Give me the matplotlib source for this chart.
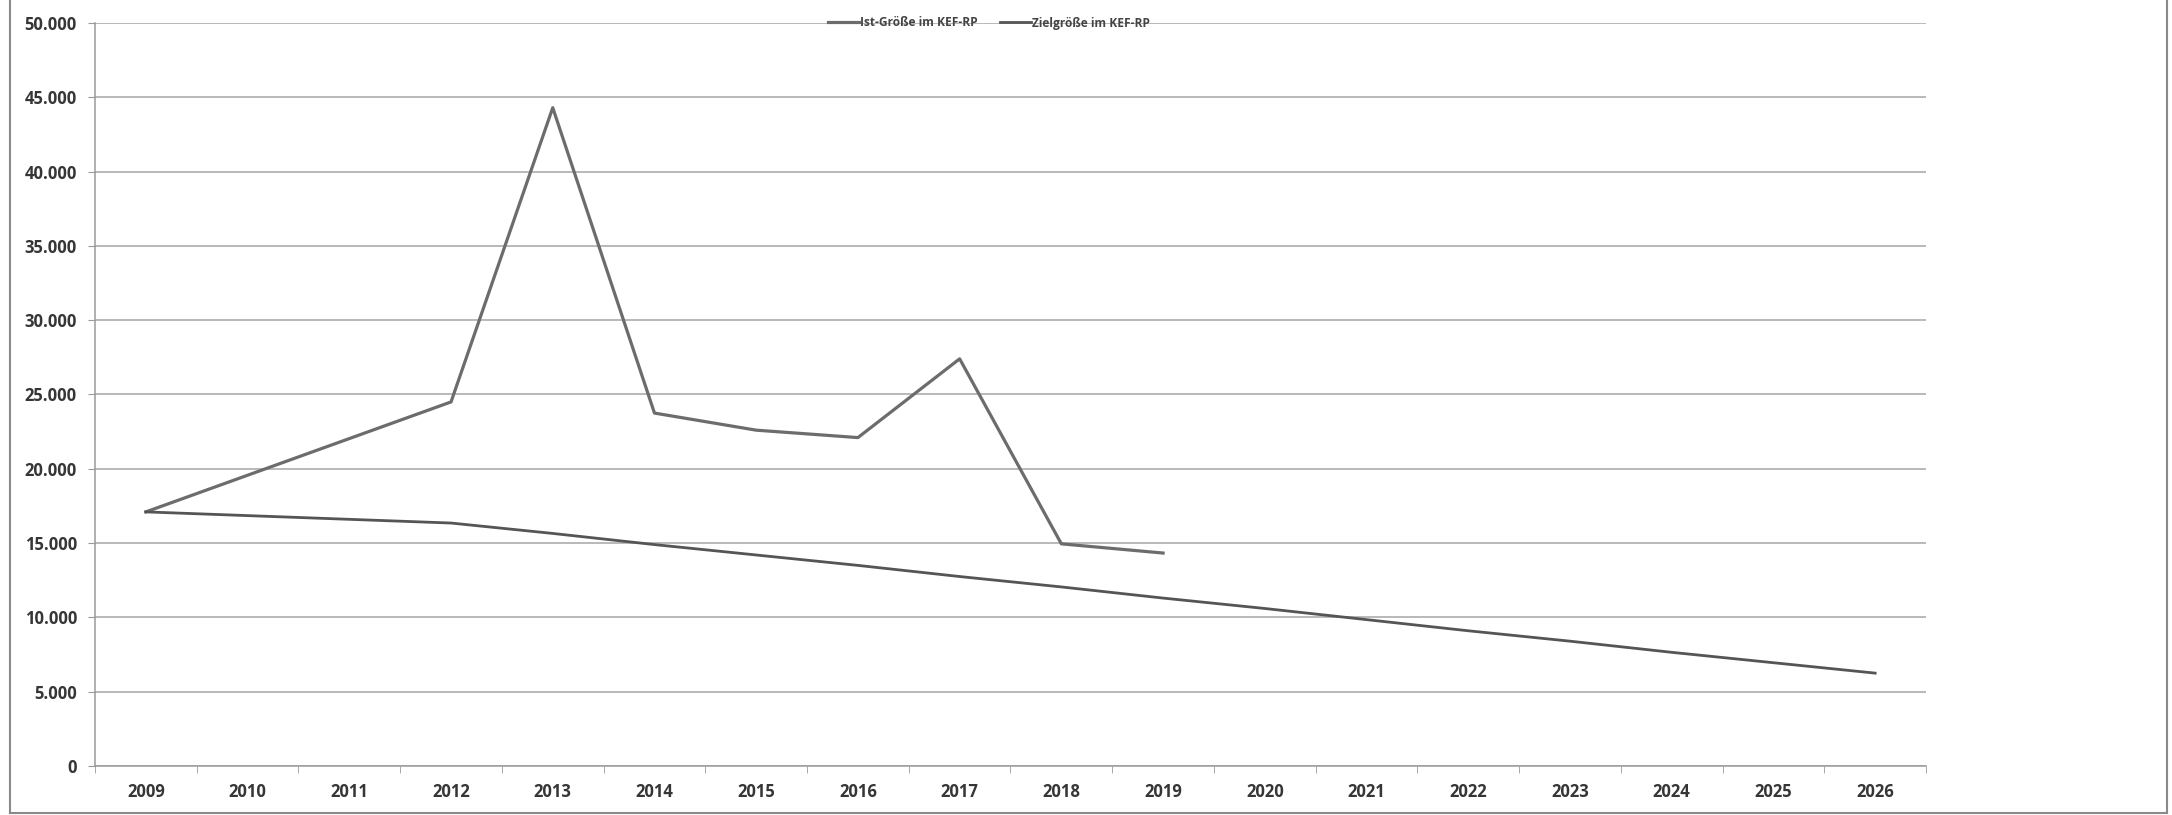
import matplotlib
matplotlib.use("Agg")
import matplotlib.pyplot as plt
from matplotlib.lines import Line2D
from matplotlib.ticker import FuncFormatter, MultipleLocator
import numpy as np

plt.rcParams['font.family'] = ['Open Sans', 'DejaVu Sans']
plt.rcParams['font.weight'] = 'bold'

years = list(range(2009, 2027))
# Ist-Größe: keine Werte für 2010/2011, Linie wird durchgezogen
ist = [17100, None, None, 24500, 44300, 23750, 22600, 22100, 27400, 14950, 14330,
       None, None, None, None, None, None, None]
ziel = [17100, 16850, 16600, 16350, 15650, 14900, 14200, 13500, 12750, 12050,
        11300, 10600, 9850, 9100, 8400, 7650, 6950, 6250]
labels = ["Ist-Größe im KEF-RP", "Zielgröße im KEF-RP"]

W, H = 2172, 815
fig = plt.figure(figsize=(W / 100, H / 100), dpi=100)
ax = fig.add_axes([95 / W, 1 - 766 / H, (1926 - 95) / W, (766 - 23) / H])

idx = np.arange(len(years))
ist_x = [i for i, v in zip(idx, ist) if v is not None]
ist_y = [v for v in ist if v is not None]

ax.plot(ist_x, ist_y, color='#6c6c6c', lw=2.3, label=labels[0], zorder=3)
ax.plot(idx, ziel, color='#555555', lw=2.0, label=labels[1], zorder=3)

ax.set_xlim(-0.5, len(years) - 0.5)
ax.set_ylim(0, 50000)
ax.yaxis.set_major_locator(MultipleLocator(5000))
ax.yaxis.set_major_formatter(FuncFormatter(lambda v, p: f"{int(v):,}".replace(",", ".")))
ax.set_xticks(idx)
ax.set_xticklabels([str(y) for y in years])
ax.set_xticks(np.arange(-0.5, len(years)), minor=True)

ax.grid(axis='y', color='#a5a5a5', lw=1.1)
ax.set_axisbelow(True)
for s in ['top', 'right']:
    ax.spines[s].set_visible(False)
for s in ['left', 'bottom']:
    ax.spines[s].set_color('#9a9a9a')
    ax.spines[s].set_linewidth(1.1)

ax.tick_params(axis='x', which='major', length=0, pad=12, labelsize=12,
               labelcolor='#363636')
ax.tick_params(axis='x', which='minor', length=5, color='#9a9a9a', direction='out')
ax.tick_params(axis='y', length=5, color='#9a9a9a', pad=8, labelsize=12,
               labelcolor='#363636')

leg = fig.legend(loc='center', bbox_to_anchor=(989 / W, 1 - 23 / H), ncol=2,
                 frameon=False, fontsize=8.6, handlelength=2.6, handletextpad=0.1,
                 columnspacing=1.8, borderpad=0)
for t in leg.get_texts():
    t.set_color('#444444')

# Rahmen links, rechts, unten
frame = dict(color='#8a8a8a', lw=1.5, transform=fig.transFigure)
fig.lines.append(Line2D([10 / W, 10 / W], [2 / H, 1], **frame))
fig.lines.append(Line2D([2167 / W, 2167 / W], [2 / H, 1], **frame))
fig.lines.append(Line2D([10 / W, 2167 / W], [2 / H, 2 / H], **frame))

fig.savefig("out.png", dpi=100, facecolor='white')
